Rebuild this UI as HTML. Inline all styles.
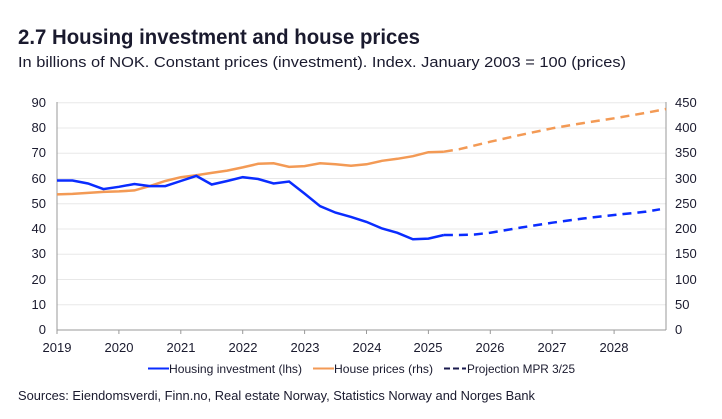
<!DOCTYPE html>
<html><head><meta charset="utf-8"><style>
body{margin:0;background:#fff;font-family:"Liberation Sans",sans-serif;}
</style></head><body>
<svg width="722" height="414" xmlns="http://www.w3.org/2000/svg" font-family="Liberation Sans, sans-serif">
<text x="18" y="44" font-size="21" font-weight="bold" fill="#1a1a2e" textLength="402" lengthAdjust="spacingAndGlyphs">2.7 Housing investment and house prices</text>
<text x="18" y="67" font-size="15" fill="#1a1a2e" textLength="608" lengthAdjust="spacingAndGlyphs">In billions of NOK. Constant prices (investment). Index. January 2003 = 100 (prices)</text>
<g stroke="#e8e8e8" stroke-width="1">
<line x1="57" x2="666" y1="102.7" y2="102.7"/><line x1="57" x2="666" y1="128" y2="128"/><line x1="57" x2="666" y1="153.2" y2="153.2"/><line x1="57" x2="666" y1="178.5" y2="178.5"/><line x1="57" x2="666" y1="203.7" y2="203.7"/><line x1="57" x2="666" y1="229" y2="229"/><line x1="57" x2="666" y1="254.2" y2="254.2"/><line x1="57" x2="666" y1="279.5" y2="279.5"/><line x1="57" x2="666" y1="304.7" y2="304.7"/>
</g>
<g stroke="#999" stroke-width="1">
<line x1="57" x2="57" y1="102" y2="330"/><line x1="666" x2="666" y1="102" y2="330"/><line x1="57" x2="666" y1="330" y2="330"/>
<line x1="57" x2="57" y1="330" y2="334"/><line x1="118.9" x2="118.9" y1="330" y2="334"/><line x1="180.8" x2="180.8" y1="330" y2="334"/><line x1="242.7" x2="242.7" y1="330" y2="334"/><line x1="304.6" x2="304.6" y1="330" y2="334"/><line x1="366.5" x2="366.5" y1="330" y2="334"/><line x1="428.4" x2="428.4" y1="330" y2="334"/><line x1="490.3" x2="490.3" y1="330" y2="334"/><line x1="552.2" x2="552.2" y1="330" y2="334"/><line x1="614.1" x2="614.1" y1="330" y2="334"/>
</g>
<g font-size="13" fill="#1a1a2e" text-anchor="end">
<text x="46" y="107">90</text><text x="46" y="132">80</text><text x="46" y="157">70</text><text x="46" y="183">60</text><text x="46" y="208">50</text><text x="46" y="233">40</text><text x="46" y="258">30</text><text x="46" y="284">20</text><text x="46" y="309">10</text><text x="46" y="334">0</text>
</g>
<g font-size="13" fill="#1a1a2e" text-anchor="start">
<text x="675" y="107">450</text><text x="675" y="132">400</text><text x="675" y="157">350</text><text x="675" y="183">300</text><text x="675" y="208">250</text><text x="675" y="233">200</text><text x="675" y="258">150</text><text x="675" y="284">100</text><text x="675" y="309">50</text><text x="675" y="334">0</text>
</g>
<g font-size="13" fill="#1a1a2e" text-anchor="middle">
<text x="57" y="352">2019</text><text x="119" y="352">2020</text><text x="181" y="352">2021</text><text x="243" y="352">2022</text><text x="305" y="352">2023</text><text x="367" y="352">2024</text><text x="428" y="352">2025</text><text x="490" y="352">2026</text><text x="552" y="352">2027</text><text x="614" y="352">2028</text>
</g>
<polyline fill="none" stroke="#f39a55" stroke-width="2.5" points="57,194.4 72.5,193.9 88,192.9 103.4,191.9 118.9,191.4 134.4,190.4 149.8,186.1 165.3,181 180.8,177.2 196.3,175.2 211.7,172.9 227.2,170.6 242.7,167.4 258.2,163.8 273.6,163.3 289.1,166.9 304.6,166.1 320.1,163.3 335.5,164.3 351,165.8 366.5,164.3 382,160.8 397.4,158.8 412.9,156.2 428.4,152.2 443.9,151.7"/>
<polyline fill="none" stroke="#f39a55" stroke-width="2.5" stroke-dasharray="9,6" points="443.9,151.7 459.3,149.2 490.3,141.7 521.2,134.8 552.2,128.3 583.1,123.1 614.1,118.3 645,113 666,109"/>
<polyline fill="none" stroke="#0a2cff" stroke-width="2.5" points="57,180.5 72.5,180.5 88,183.5 103.4,189.1 118.9,186.8 134.4,184 149.8,186.1 165.3,186.1 180.8,181 196.3,175.9 211.7,184.5 227.2,181 242.7,177.2 258.2,179 273.6,183.5 289.1,181.5 304.6,193.6 320.1,206.2 335.5,212.6 351,216.9 366.5,221.9 382,228.5 397.4,232.8 412.9,239.3 428.4,238.6 443.9,235"/>
<polyline fill="none" stroke="#0a2cff" stroke-width="2.5" stroke-dasharray="9,6" points="443.9,235 459.3,235 474.8,234.5 490.3,232.7 521.2,227.5 552.2,222.7 583.1,218.5 614.1,215 645,211.8 660,209.3"/>
<line x1="148" x2="169" y1="368.5" y2="368.5" stroke="#0a2cff" stroke-width="2"/>
<text x="169" y="373" font-size="12" fill="#1a1a2e" textLength="133" lengthAdjust="spacingAndGlyphs">Housing investment (lhs)</text>
<line x1="313" x2="334" y1="368.5" y2="368.5" stroke="#f39a55" stroke-width="2"/>
<text x="334" y="373" font-size="12" fill="#1a1a2e" textLength="99" lengthAdjust="spacingAndGlyphs">House prices (rhs)</text>
<line x1="444" x2="466" y1="368.5" y2="368.5" stroke="#1a1a4e" stroke-width="2" stroke-dasharray="6,3"/>
<text x="467" y="373" font-size="12" fill="#1a1a2e" textLength="108" lengthAdjust="spacingAndGlyphs">Projection MPR 3/25</text>
<text x="18" y="400" font-size="13" fill="#1a1a2e" textLength="517" lengthAdjust="spacingAndGlyphs">Sources: Eiendomsverdi, Finn.no, Real estate Norway, Statistics Norway and Norges Bank</text>
</svg>
</body></html>
